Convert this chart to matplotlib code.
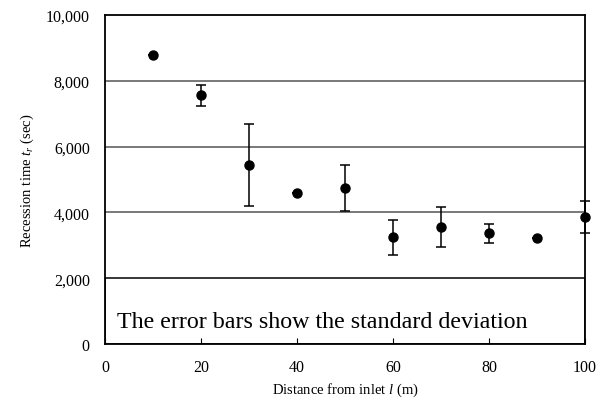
import matplotlib
matplotlib.use("Agg")
import matplotlib.pyplot as plt
from matplotlib.patches import Rectangle
from matplotlib.ticker import FuncFormatter

distance = [10, 20, 30, 40, 50, 60, 70, 80, 90, 100]
recession = [8800, 7560, 5430, 4590, 4730, 3240, 3550, 3360, 3210, 3850]
std_dev = [0, 310, 1250, 0, 700, 540, 610, 280, 0, 490]
note = "The error bars show the standard deviation"

plt.rcParams['font.family'] = ['Liberation Serif', 'DejaVu Serif']
plt.rcParams['mathtext.fontset'] = 'custom'
plt.rcParams['mathtext.rm'] = 'Liberation Serif'
plt.rcParams['mathtext.it'] = 'Liberation Serif:italic'

fig = plt.figure(figsize=(5.97, 4.02), dpi=100)
ax = fig.add_axes([0.176, 0.142, 0.804, 0.818])

ax.set_xlim(0, 100)
ax.set_ylim(0, 10000)
ax.set_yticks([0, 2000, 4000, 6000, 8000, 10000])
ax.set_xticks([0, 20, 40, 60, 80, 100])
ax.yaxis.set_major_formatter(FuncFormatter(lambda v, p: f"{int(v):,}"))

for y in [4000, 6000, 8000]:
    ax.axhline(y, color='#555555', lw=1.1, zorder=1)

ax.add_patch(Rectangle((0, 0), 100, 2000, facecolor='white', edgecolor='black',
                       lw=1.1, zorder=1.5))
ax.text(2.4, 520, note, fontsize=17.3, ha='left', va='baseline', zorder=2)

ax.errorbar(distance, recession, yerr=std_dev,
            fmt='o', color='black', ms=6.5, capsize=3.5, elinewidth=1.1,
            capthick=1.1, zorder=3, clip_on=False)

for s in ax.spines.values():
    s.set_linewidth(1.3)

ax.tick_params(axis='x', direction='in', length=4, labelsize=11.5, pad=11)
ax.tick_params(axis='y', direction='in', length=0, labelsize=11.5, pad=11)

ax.set_ylabel(r"Recession time $t_r$ (sec)", fontsize=10.5, labelpad=7)
ax.set_xlabel(r"Distance from inlet $l$ (m)", fontsize=10.5, labelpad=4)

fig.savefig("out.png", dpi=100)
